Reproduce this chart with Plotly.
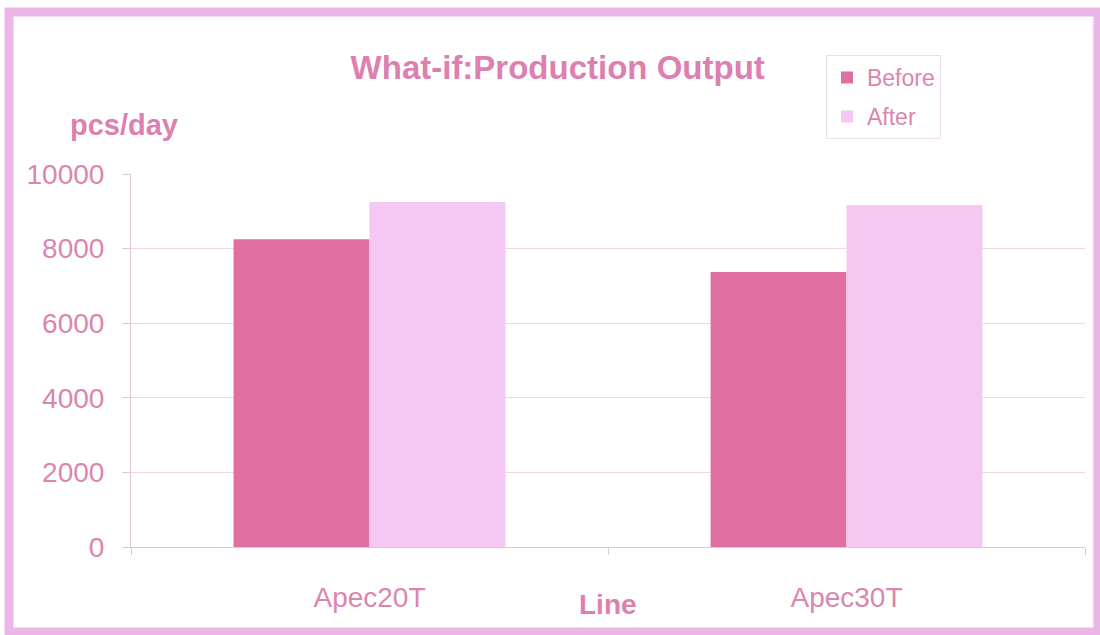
import plotly.graph_objects as go

# Production output per line, before and after the what-if change
lines = ["Apec20T", "Apec30T"]
before = [8250, 7370]
after = [9250, 9170]
y_ticks = [0, 2000, 4000, 6000, 8000, 10000]
y_tick_text = [str(v) for v in y_ticks]

PINK_DARK = "#E070A2"
PINK_LIGHT = "#F4C8F2"
TEXT = "#DD7FB0"
TICK_TEXT = "#DA86AE"
GRID = "#F2D6EA"
AXIS = "#DCC8D8"
FONT = "Liberation Sans, Arial, sans-serif"

fig = go.Figure()
fig.add_trace(go.Bar(name="Before", x=lines, y=before, legendgroup="a",
                     marker=dict(color=PINK_DARK, line=dict(width=0))))
fig.add_trace(go.Bar(name="After", x=lines, y=after, legendgroup="b",
                     marker=dict(color=PINK_LIGHT, line=dict(width=0))))

# Invisible trace on an overlay axis that carries tick marks between categories
fig.add_trace(go.Scatter(x=[0, 2], y=[0, 0], xaxis="x2", mode="lines",
                         line=dict(width=0), showlegend=False, hoverinfo="skip"))

fig.update_layout(
    width=1100, height=635,
    margin=dict(l=131, r=15, t=174, b=88),
    paper_bgcolor="white", plot_bgcolor="white",
    barmode="group", bargap=0.43, bargroupgap=0,
    font=dict(family=FONT, color=TICK_TEXT),
    showlegend=True,
    legend=dict(x=0.7285, y=1.319, xanchor="left", yanchor="top",
                bgcolor="white", bordercolor="#EEDDEA", borderwidth=1,
                font=dict(size=23, color=TICK_TEXT, family=FONT),
                traceorder="grouped", tracegroupgap=6,
                itemwidth=30),
    xaxis=dict(type="category", showgrid=False, ticks="", showline=True,
               linecolor=AXIS, linewidth=1,
               tickfont=dict(size=28, color=TICK_TEXT, family=FONT),
               ticklabelstandoff=25, zeroline=False),
    xaxis2=dict(overlaying="x", range=[0, 2], tickvals=[0, 1, 2],
                ticktext=["", "", ""], ticks="outside", ticklen=7,
                tickcolor=AXIS, showgrid=False, showline=False,
                zeroline=False, side="bottom", anchor="y"),
    yaxis=dict(range=[0, 10000], tickvals=y_ticks, ticktext=y_tick_text,
               showgrid=True, gridcolor=GRID, gridwidth=1, showline=True,
               linecolor=AXIS, linewidth=1, ticks="outside", ticklen=8,
               tickcolor=AXIS, ticklabelstandoff=12,
               tickfont=dict(size=28, color=TICK_TEXT, family=FONT),
               zeroline=False),
    title=dict(text="<b>What-if:Production Output</b>", x=0.507, xanchor="center",
               y=0.893, yanchor="middle",
               font=dict(size=33, color=TEXT, family=FONT)),
    annotations=[
        dict(text="<b>pcs/day</b>", xref="paper", yref="paper",
             x=-0.0073, y=1.131, xanchor="center", yanchor="middle",
             showarrow=False, font=dict(size=29, color=TEXT, family=FONT)),
        dict(text="<b>Line</b>", xref="paper", yref="paper",
             x=0.5, y=-0.155, xanchor="center", yanchor="middle",
             showarrow=False, font=dict(size=28, color=TEXT, family=FONT)),
    ],
    shapes=[
        # outer chart frame
        dict(type="rect", xref="paper", yref="paper",
             x0=-0.1279, x1=1.0136, y0=-0.2279, y1=1.4343,
             line=dict(color="#EDB6E8", width=9), layer="below"),
        # inner edge line on the right of the frame
        dict(type="line", xref="paper", yref="paper",
             x0=1.0084, x1=1.0084, y0=-0.21, y1=1.41,
             line=dict(color="#EBDDE8", width=1), layer="below"),
    ],
)

fig.write_html("out.html")
